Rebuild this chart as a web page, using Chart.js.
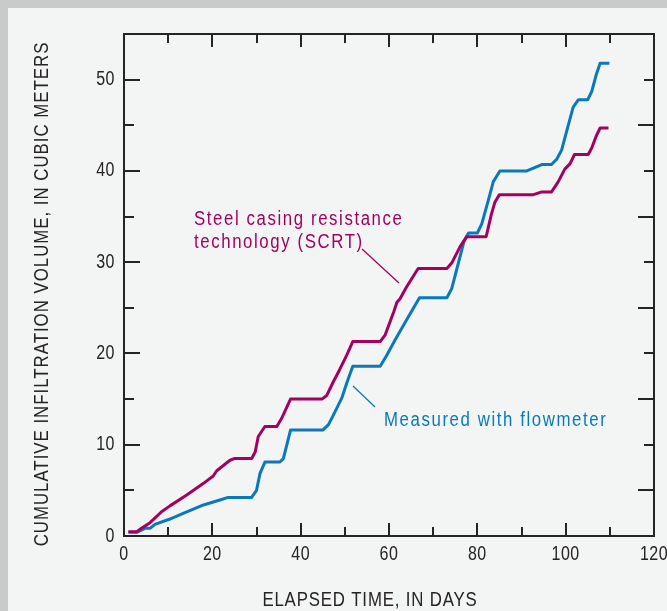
<!DOCTYPE html>
<html>
<head>
<meta charset="utf-8">
<script src="https://cdn.jsdelivr.net/npm/chart.js@4.4.0/dist/chart.umd.min.js"></script>
<style>
  html, body { margin: 0; padding: 0; }
  body { width: 667px; height: 611px; background: #c9cbca; position: relative; overflow: hidden; }
  #panel { position: absolute; left: 8px; top: 8px; right: 0; bottom: 0; background: #f3f5f4; }
  #c { position: absolute; left: 0; top: 0; }
</style>
</head>
<body>
<div id="panel"></div>
<canvas id="c" width="667" height="611"></canvas>
<script>
// Cumulative infiltration volume (cubic meters) against elapsed time (days)
const scrtDays = [1, 2.9, 3.6, 5.9, 8.5, 10.4, 14.2, 18, 20.2, 21, 24, 25.1, 28.9, 29.7, 30.4, 31.9,
  34.6, 35.7, 37.7, 44.8, 45.9, 47.4, 48.9, 50.4, 51.8, 58, 59.1, 61.1, 61.8, 62.5, 64, 66.6,
  73.1, 74.2, 76.1, 77.6, 82, 83.2, 84, 85, 92.7, 94.6, 96.8, 98.3, 99.8, 101, 102, 105.1,
  105.9, 106.9, 107.8, 109.7];
const scrtVolume = [0.47, 0.47, 0.73, 1.46, 2.66, 3.3, 4.5, 5.77, 6.57, 7.15, 8.3, 8.5, 8.5, 9.2, 10.9, 12.0,
  12.0, 12.9, 15.0, 15.0, 15.4, 16.9, 18.3, 19.8, 21.3, 21.3, 22.0, 24.6, 25.6, 26.0, 27.3, 29.3,
  29.3, 29.9, 31.7, 32.8, 32.8, 35.3, 36.6, 37.4, 37.4, 37.7, 37.7, 38.8, 40.2, 40.8, 41.8, 41.8,
  42.5, 43.8, 44.7, 44.7];

const flowDays = [1, 2.9, 4.75, 5.9, 7, 10.4, 13.4, 18, 21.7, 23.6, 28.9, 30, 30.8, 31.9, 35.3, 36.1,
  37.7, 45, 46.3, 47.4, 49.3, 50.4, 51.8, 58, 59.5, 61.4, 64, 66.9, 73.1, 74.2, 75.7, 77, 78, 80,
  81, 82.5, 83.6, 85.1, 91.2, 94.6, 96.8, 98, 99.1, 100.2, 101.7, 102.9, 105, 105.9, 106.9,
  107.8, 109.9];
const flowVolume = [0.4, 0.4, 0.84, 0.84, 1.28, 1.86, 2.48, 3.4, 3.94, 4.23, 4.23, 5.0, 6.86, 8.1, 8.1, 8.5,
  11.6, 11.6, 12.2, 13.25, 15.1, 16.7, 18.6, 18.6, 19.8, 21.5, 23.7, 26.1, 26.1, 27.1, 29.9, 32.3, 33.2, 33.2,
  34.2, 36.8, 38.8, 40.0, 40.0, 40.7, 40.7, 41.3, 42.3, 44.3, 47.0, 47.8, 47.8, 48.7, 50.5,
  51.8, 51.8];

const xTickLabels = ['0', '20', '40', '60', '80', '100', '120'];
const yTickLabels = ['0', '10', '20', '30', '40', '50'];

const SCRT_COLOR = '#a6005f';
const FLOW_COLOR = '#0a78bf';
const INK = '#262324';
const FONT = '20px "Liberation Sans", Arial, sans-serif';

function pairs(xs, ys) { return xs.map((x, i) => ({ x: x, y: ys[i] })); }

// Condensed lettering: horizontally squeezed glyphs with open tracking
function drawText(ctx, text, x, y, align, sx, spacing) {
  ctx.save();
  ctx.translate(x, y);
  ctx.scale(sx, 1);
  ctx.letterSpacing = spacing + 'px';
  ctx.textAlign = align;
  ctx.fillText(text, 0, 0);
  ctx.restore();
}

// Frame with inward tick marks on all four sides, labels, titles and callouts
const framePlugin = {
  id: 'framePlugin',
  beforeDatasetsDraw(chart) {
    const { ctx, chartArea: a, scales: { x, y } } = chart;
    ctx.save();
    ctx.strokeStyle = INK;
    ctx.lineWidth = 2;
    ctx.strokeRect(a.left, a.top, a.right - a.left, a.bottom - a.top);
    ctx.beginPath();
    for (let d = 10; d < 120; d += 10) {
      const px = Math.round(x.getPixelForValue(d));
      const len = d % 20 === 0 ? 13 : 9;
      ctx.moveTo(px, a.bottom); ctx.lineTo(px, a.bottom - len);
      ctx.moveTo(px, a.top); ctx.lineTo(px, a.top + len);
    }
    for (let v = 5; v <= 50; v += 5) {
      const py = Math.round(y.getPixelForValue(v));
      const leftLen = v % 10 === 0 ? 16 : 10;
      const rightLen = v % 10 === 0 ? 10 : 16;
      ctx.moveTo(a.left, py); ctx.lineTo(a.left + leftLen, py);
      ctx.moveTo(a.right, py); ctx.lineTo(a.right - rightLen, py);
    }
    ctx.stroke();
    ctx.restore();
  },
  afterDatasetsDraw(chart) {
    const { ctx, chartArea: a, scales: { x, y } } = chart;
    ctx.save();
    ctx.fillStyle = INK;
    ctx.font = FONT;
    ctx.textBaseline = 'middle';
    xTickLabels.forEach(t => drawText(ctx, t, x.getPixelForValue(Number(t)), a.bottom + 18, 'center', 0.8, 0.6));
    yTickLabels.forEach(t => drawText(ctx, t, a.left - 9, y.getPixelForValue(Number(t)), 'right', 0.8, 0.6));

    drawText(ctx, 'ELAPSED TIME, IN DAYS', 370, 600, 'center', 0.84, 1.0);
    ctx.save();
    ctx.translate(42, 294);
    ctx.rotate(-Math.PI / 2);
    drawText(ctx, 'CUMULATIVE INFILTRATION VOLUME, IN CUBIC METERS', 0, 0, 'center', 0.84, 1.2);
    ctx.restore();

    ctx.textBaseline = 'alphabetic';
    ctx.fillStyle = SCRT_COLOR;
    drawText(ctx, 'Steel casing resistance', 194, 225, 'left', 0.84, 1.9);
    drawText(ctx, 'technology (SCRT)', 194, 248, 'left', 0.84, 1.9);
    ctx.fillStyle = FLOW_COLOR;
    drawText(ctx, 'Measured with flowmeter', 384, 426, 'left', 0.84, 1.9);

    ctx.lineWidth = 1.3;
    ctx.strokeStyle = SCRT_COLOR;
    ctx.beginPath(); ctx.moveTo(362, 249); ctx.lineTo(399, 283); ctx.stroke();
    ctx.strokeStyle = FLOW_COLOR;
    ctx.beginPath(); ctx.moveTo(353, 386); ctx.lineTo(375, 407); ctx.stroke();
    ctx.restore();
  }
};

new Chart(document.getElementById('c'), {
  type: 'line',
  data: {
    datasets: [
      { label: 'Steel casing resistance technology (SCRT)', data: pairs(scrtDays, scrtVolume),
        borderColor: SCRT_COLOR, borderWidth: 3, pointRadius: 0, tension: 0, fill: false,
        borderJoinStyle: 'round' },
      { label: 'Measured with flowmeter', data: pairs(flowDays, flowVolume),
        borderColor: FLOW_COLOR, borderWidth: 3, pointRadius: 0, tension: 0, fill: false,
        borderJoinStyle: 'round' }
    ]
  },
  options: {
    responsive: false,
    animation: false,
    events: [],
    layout: { padding: { left: 124, top: 34, right: 13, bottom: 75 } },
    plugins: { legend: { display: false }, tooltip: { enabled: false } },
    scales: {
      x: { type: 'linear', min: 0, max: 120, display: false },
      y: { type: 'linear', min: 0, max: 55, display: false }
    }
  },
  plugins: [framePlugin]
});
</script>
</body>
</html>
